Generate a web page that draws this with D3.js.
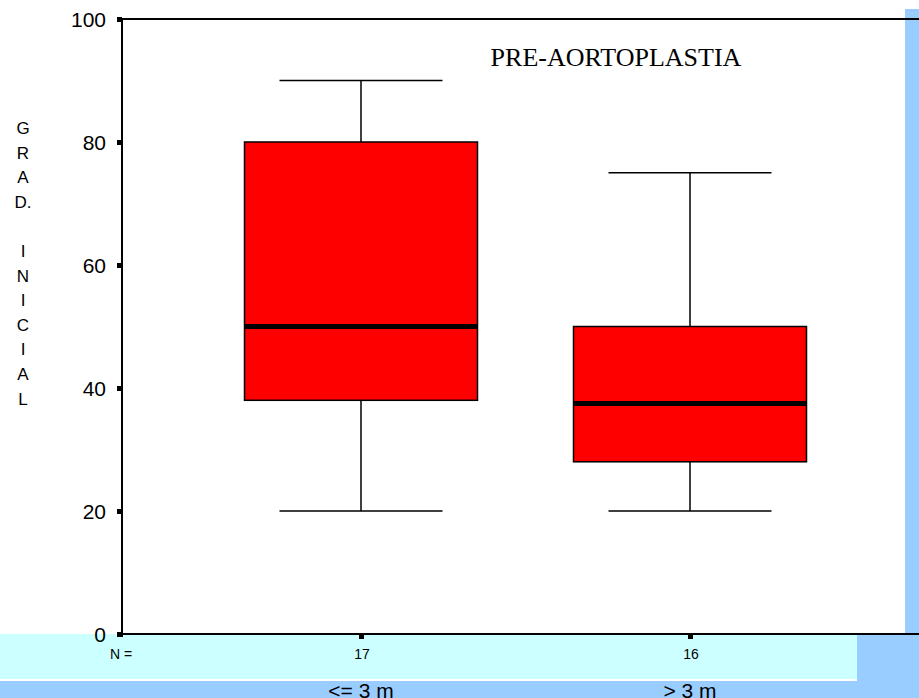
<!DOCTYPE html>
<html>
<head>
<meta charset="utf-8">
<script src="https://cdn.jsdelivr.net/npm/d3@7"></script>
<style>
body { margin: 0; background: #fff; }
text { font-family: Arial, "Liberation Sans", sans-serif; }
</style>
</head>
<body>
<div id="chart"></div>
<script>
// data
var groups = ["<= 3 m", "> 3 m"];
var counts = [17, 16];
var lowWhisker = [20, 20];
var q1 = [38, 28];
var median = [50, 37.5];
var q3 = [80, 50];
var highWhisker = [90, 75];
var yTicks = [0, 20, 40, 60, 80, 100];
var yLabelLines = ["G", "R", "A", "D.", "", "I", "N", "I", "C", "I", "A", "L"];

var W = 919, H = 698;
var svg = d3.select("#chart").append("svg")
    .attr("width", W)
    .attr("height", H);

// background panels
svg.append("rect").attr("x", 905).attr("y", 9).attr("width", 14).attr("height", H - 9).attr("fill", "#99ccff");
svg.append("rect").attr("x", 857).attr("y", 634).attr("width", W - 857).attr("height", H - 634).attr("fill", "#99ccff");
svg.append("rect").attr("x", 0).attr("y", 681).attr("width", W).attr("height", H - 681).attr("fill", "#99ccff");
svg.append("rect").attr("x", 0).attr("y", 634).attr("width", 857).attr("height", 45).attr("fill", "#ccffff");

var pLeft = 122, pTop = 19, pBottom = 634, pRight = 919;

var y = d3.scaleLinear().domain([0, 100]).range([pBottom, pTop]);
var x = d3.scalePoint().domain(groups).range([361, 690]);

// frame lines
svg.append("line").attr("x1", pLeft).attr("x2", pRight).attr("y1", pTop).attr("y2", pTop)
    .attr("stroke", "#000").attr("stroke-width", 2);
svg.append("line").attr("x1", pLeft).attr("x2", pRight).attr("y1", pBottom).attr("y2", pBottom)
    .attr("stroke", "#000").attr("stroke-width", 2);
svg.append("line").attr("x1", pLeft).attr("x2", pLeft).attr("y1", pTop).attr("y2", pBottom)
    .attr("stroke", "#000").attr("stroke-width", 2);

// y ticks
var yt = svg.append("g");
yt.selectAll("rect").data(yTicks).enter().append("rect")
    .attr("x", pLeft - 5).attr("y", function(d) { return y(d) - 2; })
    .attr("width", 5).attr("height", 5).attr("fill", "#000");
yt.selectAll("text").data(yTicks).enter().append("text")
    .attr("x", 106).attr("y", function(d) { return y(d) + 8; })
    .attr("text-anchor", "end").style("font-size", "21px")
    .text(function(d) { return d; });

// y label, one letter per line
svg.append("g").selectAll("text").data(yLabelLines).enter().append("text")
    .attr("x", 23).attr("y", function(d, i) { return 134 + i * 24.6; })
    .attr("text-anchor", "middle").style("font-size", "17px")
    .text(function(d) { return d; });

// x ticks + N labels
var xt = svg.append("g");
xt.selectAll("rect").data(groups).enter().append("rect")
    .attr("x", function(d) { return x(d) - 2; }).attr("y", pBottom)
    .attr("width", 5).attr("height", 5).attr("fill", "#000");
xt.append("rect").attr("x", pLeft - 4).attr("y", pBottom - 2).attr("width", 5).attr("height", 5).attr("fill", "#000");
xt.append("text").attr("x", 121).attr("y", 659).attr("text-anchor", "middle")
    .style("font-size", "14px").text("N =");
xt.selectAll(".n").data(groups).enter().append("text")
    .attr("class", "n")
    .attr("x", function(d) { return x(d) + 1; }).attr("y", 659)
    .attr("text-anchor", "middle").style("font-size", "14px")
    .text(function(d, i) { return counts[i]; });

// category labels
svg.selectAll(".cat").data(groups).enter().append("text")
    .attr("class", "cat")
    .attr("x", function(d) { return x(d); }).attr("y", 698)
    .attr("text-anchor", "middle").style("font-size", "21px")
    .text(function(d) { return d; });

// boxes
var boxW = 233, capW = 163;
var bx = svg.append("g").selectAll("g").data(groups).enter().append("g");
bx.append("line")
    .attr("x1", function(d) { return x(d); }).attr("x2", function(d) { return x(d); })
    .attr("y1", function(d, i) { return y(lowWhisker[i]); })
    .attr("y2", function(d, i) { return y(highWhisker[i]); })
    .attr("stroke", "#000").attr("stroke-width", 1.5);
bx.append("line")
    .attr("x1", function(d) { return x(d) - capW / 2; }).attr("x2", function(d) { return x(d) + capW / 2; })
    .attr("y1", function(d, i) { return y(lowWhisker[i]); })
    .attr("y2", function(d, i) { return y(lowWhisker[i]); })
    .attr("stroke", "#000").attr("stroke-width", 1.5);
bx.append("line")
    .attr("x1", function(d) { return x(d) - capW / 2; }).attr("x2", function(d) { return x(d) + capW / 2; })
    .attr("y1", function(d, i) { return y(highWhisker[i]); })
    .attr("y2", function(d, i) { return y(highWhisker[i]); })
    .attr("stroke", "#000").attr("stroke-width", 1.5);
bx.append("rect")
    .attr("x", function(d) { return x(d) - boxW / 2; })
    .attr("y", function(d, i) { return y(q3[i]); })
    .attr("width", boxW)
    .attr("height", function(d, i) { return y(q1[i]) - y(q3[i]); })
    .attr("fill", "#ff0000").attr("stroke", "#000").attr("stroke-width", 1.5);
bx.append("line")
    .attr("x1", function(d) { return x(d) - boxW / 2; }).attr("x2", function(d) { return x(d) + boxW / 2; })
    .attr("y1", function(d, i) { return y(median[i]); })
    .attr("y2", function(d, i) { return y(median[i]); })
    .attr("stroke", "#000").attr("stroke-width", 5);

// title
svg.append("text").attr("x", 616).attr("y", 66).attr("text-anchor", "middle")
    .style("font-family", "'Times New Roman', 'Liberation Serif', serif")
    .style("font-size", "26px").text("PRE-AORTOPLASTIA");
</script>
</body>
</html>
